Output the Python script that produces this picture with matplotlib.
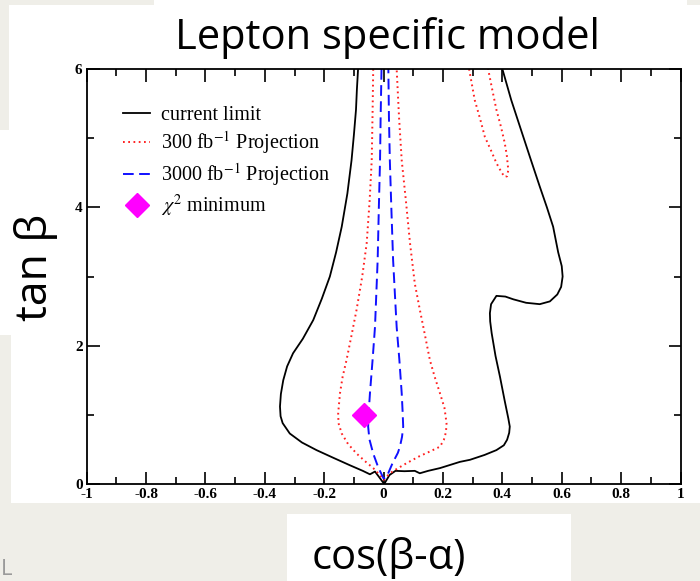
import matplotlib
matplotlib.use("Agg")
import matplotlib.pyplot as plt
from matplotlib.patches import Rectangle
from matplotlib.ticker import MultipleLocator

# current limit contour (cos(b-a), tan b), traced from top-left round to top-right
current_x = [-0.086, -0.090, -0.093, -0.100, -0.108, -0.122, -0.141, -0.160, -0.181, -0.208,
             -0.237, -0.272, -0.305, -0.325, -0.338, -0.346, -0.349, -0.347, -0.340, -0.316,
             -0.275, -0.226, -0.170, -0.113, -0.070, -0.046, -0.029, -0.015, 0.002, 0.020,
             0.040, 0.070, 0.105, 0.122, 0.150, 0.190, 0.257, 0.291, 0.340, 0.380,
             0.405, 0.416, 0.423, 0.425, 0.420, 0.408, 0.392, 0.377, 0.364, 0.359,
             0.358, 0.362, 0.380, 0.410, 0.437, 0.480, 0.526, 0.560, 0.585, 0.598,
             0.603, 0.600, 0.588, 0.571, 0.550, 0.526, 0.495, 0.459, 0.430, 0.400]
current_y = [6.00, 5.70, 5.41, 5.05, 4.68, 4.20, 3.72, 3.35, 3.00, 2.68,
             2.37, 2.10, 1.89, 1.70, 1.50, 1.30, 1.12, 0.98, 0.88, 0.73,
             0.60, 0.49, 0.38, 0.27, 0.19, 0.14, 0.18, 0.10, 0.00, 0.13,
             0.19, 0.185, 0.19, 0.155, 0.19, 0.23, 0.32, 0.35, 0.42, 0.49,
             0.56, 0.64, 0.74, 0.83, 0.95, 1.20, 1.55, 1.85, 2.18, 2.35,
             2.47, 2.60, 2.72, 2.71, 2.67, 2.62, 2.60, 2.64, 2.74, 2.85,
             3.00, 3.15, 3.35, 3.72, 4.00, 4.30, 4.70, 5.17, 5.55, 6.00]

# 300 fb^-1 projection: central band and the separate upper-right island
p300_x = [-0.035, -0.037, -0.040, -0.047, -0.057, -0.072, -0.091, -0.108, -0.125, -0.138,
          -0.147, -0.153, -0.152, -0.141, -0.120, -0.091, -0.060, -0.035, -0.015, 0.000,
          0.021, 0.045, 0.077, 0.120, 0.156, 0.190, 0.203, 0.210, 0.212, 0.205,
          0.190, 0.172, 0.156, 0.138, 0.122, 0.105, 0.089, 0.075, 0.061, 0.052, 0.044]
p300_y = [6.00, 5.40, 4.68, 4.10, 3.48, 3.00, 2.52, 2.15, 1.79, 1.55,
          1.31, 1.02, 0.88, 0.73, 0.58, 0.44, 0.32, 0.23, 0.14, 0.06,
          0.155, 0.22, 0.30, 0.40, 0.47, 0.54, 0.64, 0.75, 0.88, 1.10,
          1.31, 1.55, 1.79, 2.18, 2.52, 2.90, 3.48, 4.10, 4.68, 5.30, 6.00]
island_x = [0.288, 0.307, 0.325, 0.341, 0.362, 0.380, 0.398, 0.408, 0.416, 0.420,
            0.415, 0.408, 0.395, 0.380, 0.366, 0.352]
island_y = [6.00, 5.55, 5.28, 5.02, 4.82, 4.64, 4.50, 4.44, 4.45, 4.54,
            4.75, 4.93, 5.17, 5.41, 5.70, 6.00]

# 3000 fb^-1 projection
p3000_x = [-0.007, -0.010, -0.012, -0.016, -0.020, -0.029, -0.037, -0.046, -0.050, -0.052,
           -0.048, -0.035, -0.018, 0.000, 0.010, 0.030, 0.048, 0.055, 0.062, 0.066,
           0.064, 0.061, 0.053, 0.044, 0.038, 0.032, 0.026, 0.021, 0.018, 0.016]
p3000_y = [6.00, 5.30, 4.68, 4.00, 3.24, 2.27, 1.80, 1.31, 1.05, 0.83,
           0.65, 0.44, 0.24, 0.08, 0.10, 0.30, 0.45, 0.54, 0.68, 0.83,
           1.05, 1.31, 1.80, 2.27, 2.75, 3.24, 4.00, 4.68, 5.30, 6.00]

chi2_min = (-0.065, 1.0)

x_ticks = [-1, -0.8, -0.6, -0.4, -0.2, 0, 0.2, 0.4, 0.6, 0.8, 1]
x_ticklabels = ["-1", "-0.8", "-0.6", "-0.4", "-0.2", "0", "0.2", "0.4", "0.6", "0.8", "1"]

plt.rcParams["mathtext.fontset"] = "stix"

W, H = 700, 581
fig = plt.figure(figsize=(7, 5.81), dpi=100, facecolor="white")

# grey slide background around the white panel
grey = "#efeee8"
for (x0, y0, w, h) in [(0, 0, 154, 5), (687, 0, 13, 5), (0, 0, 9, 130),
                       (0, 335, 11, 170), (0, 503, 287, 78), (571, 503, 129, 78),
                       (287, 503, 284, 11)]:
    fig.add_artist(Rectangle((x0 / W, 1 - (y0 + h) / H), w / W, h / H,
                             transform=fig.transFigure, facecolor=grey,
                             edgecolor="none", zorder=0))
fig.text(1 / W, 1 - 575 / H, "L", fontsize=16, color="#9a9a9a",
         family="Open Sans", va="baseline")

ax = fig.add_axes([86.7 / W, 1 - 484 / H, (680.5 - 86.7) / W, (484 - 69) / H])

ax.plot(current_x, current_y, color="black", lw=1.3, label="current limit")
ax.plot(p300_x, p300_y, color="#ff2020", lw=1.4, ls=(0, (0.9, 1.8)),
        label="300 fb$^{-1}$ Projection")
ax.plot(island_x, island_y, color="#ff2020", lw=1.4, ls=(0, (0.9, 1.8)))
ax.plot(p3000_x, p3000_y, color="#1010ff", lw=1.4, ls=(0, (5.5, 2.8)),
        label="3000 fb$^{-1}$ Projection")
ax.plot([chi2_min[0]], [chi2_min[1]], ls="none", marker="D", ms=12,
        color="#ff00ff", label="$\\chi^2$ minimum")

ax.set_xlim(-1, 1)
ax.set_ylim(0, 6)
ax.xaxis.set_minor_locator(MultipleLocator(0.1))
ax.yaxis.set_major_locator(MultipleLocator(2))
ax.yaxis.set_minor_locator(MultipleLocator(1))
ax.set_xticks(x_ticks)
ax.set_xticklabels(x_ticklabels)
ax.tick_params(which="both", direction="in", top=True, right=True, width=1.2)
ax.tick_params(which="major", length=9, pad=3)
ax.tick_params(which="minor", length=5)
for lab in ax.get_xticklabels() + ax.get_yticklabels():
    lab.set_family("Liberation Serif")
    lab.set_weight("bold")
    lab.set_fontsize(11)
for s in ax.spines.values():
    s.set_linewidth(1.3)

ax.legend(loc="upper left", bbox_to_anchor=(0.061, 0.912), frameon=False,
          borderpad=0, borderaxespad=0, handlelength=1.35, handletextpad=0.55,
          labelspacing=0.24, prop={"family": "Liberation Serif", "size": 14.5})

fig.text(387 / W, 1 - 49 / H, "Lepton specific model", family="Open Sans",
         fontsize=30, ha="center", va="baseline")
fig.text(36 / W, 1 - 267 / H, "tan β", family="Open Sans", fontsize=32,
         rotation=90, ha="center", va="center")
fig.text(389 / W, 1 - 569 / H, "cos(β-α)", family="Open Sans", fontsize=30,
         ha="center", va="baseline")

fig.savefig("out.png", dpi=100, facecolor=fig.get_facecolor())
